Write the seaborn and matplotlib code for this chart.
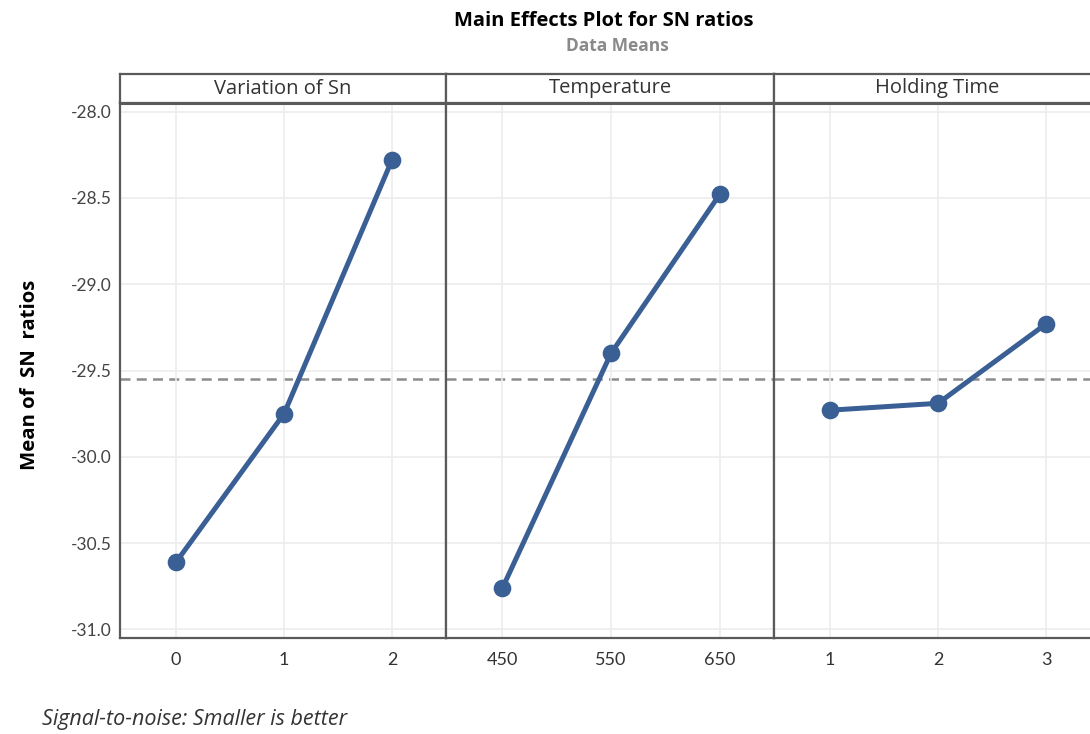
import numpy as np
import pandas as pd
import seaborn as sns
import matplotlib.pyplot as plt

# values
factors = ["Variation of Sn", "Temperature", "Holding Time"]
sn_levels = ["0", "1", "2"]
sn_means = [-30.61, -29.75, -28.28]
temp_levels = ["450", "550", "650"]
temp_means = [-30.76, -29.40, -28.48]
hold_levels = ["1", "2", "3"]
hold_means = [-29.73, -29.69, -29.23]

levels = [sn_levels, temp_levels, hold_levels]
means = [sn_means, temp_means, hold_means]
grand_mean = np.mean(sn_means + temp_means + hold_means)

line_color = "#3a5f94"
frame_color = "#5a5a5a"
grid_color = "#ececec"

sns.set_style("white")
plt.rcParams["font.family"] = ["Lato", "DejaVu Sans"]
wide = ["Open Sans", "DejaVu Sans"]

fig = plt.figure(figsize=(10.9, 7.34), dpi=100)
W, H = 1090.0, 734.0

# panel extents in pixels (left, right)
panels = [(120, 446), (446, 774), (774, 1100)]
top_px, bottom_px, strip_top_px = 103, 638, 74

for i, (x0, x1) in enumerate(panels):
    ax = fig.add_axes([x0 / W, 1 - bottom_px / H, (x1 - x0) / W,
                       (bottom_px - top_px) / H])
    df = pd.DataFrame({"level": levels[i], "mean": means[i]})
    sns.pointplot(data=df, x="level", y="mean", order=levels[i], ax=ax,
                  color=line_color, errorbar=None, markersize=10,
                  linewidth=3.6)
    ax.axhline(grand_mean, color="#8c8c8c", ls=(0, (4, 2.5)), lw=1.8,
               zorder=0)
    ax.set_xlim(-0.52, 2.5)
    ax.set_ylim(-31.05, -27.95)
    ax.set_yticks([-31.0, -30.5, -30.0, -29.5, -29.0, -28.5, -28.0])
    ax.grid(True, color=grid_color, lw=1.2)
    ax.set_axisbelow(True)
    ax.set_xlabel("")
    ax.set_ylabel("")
    for s in ax.spines.values():
        s.set_color(frame_color)
        s.set_linewidth(1.6)
    ax.spines["top"].set_linewidth(2.2)
    ax.tick_params(axis="x", length=4, color=frame_color, labelsize=13,
                   labelcolor="#333333", pad=6)
    if i == 0:
        ax.tick_params(axis="y", length=4, color=frame_color,
                       labelsize=12.5, labelcolor="#444444", pad=2)
        ax.set_yticklabels(["-31.0", "-30.5", "-30.0", "-29.5", "-29.0",
                            "-28.5", "-28.0"])
    else:
        ax.tick_params(axis="y", left=False, labelleft=False)

    # strip header
    sax = fig.add_axes([x0 / W, 1 - top_px / H, (x1 - x0) / W,
                        (top_px - strip_top_px) / H])
    sax.set_xticks([])
    sax.set_yticks([])
    for s in sax.spines.values():
        s.set_color(frame_color)
        s.set_linewidth(1.6)
    sax.text(0.5, 0.5, factors[i], ha="center", va="center", family=wide,
             fontsize=14.5, color="#333333", transform=sax.transAxes)

fig.text(604 / W, 1 - 21 / H, "Main Effects Plot for SN ratios",
         fontsize=14.5, fontweight="bold", family=wide, color="black",
         ha="center", va="center")
fig.text(617 / W, 1 - 46 / H, "Data Means", fontsize=12.5, family=wide,
         fontweight="bold", color="#8a8a8a", ha="center", va="center")
fig.text(30 / W, 1 - 375 / H, "Mean of  SN  ratios", fontsize=14.7,
         fontweight="bold", rotation=90, family=wide, color="black",
         ha="center", va="center")
fig.text(42 / W, 1 - 720 / H, "Signal-to-noise: Smaller is better",
         fontsize=15.5, style="italic", color="#333333", family=wide,
         ha="left", va="center")

fig.savefig("out.png", dpi=100)
